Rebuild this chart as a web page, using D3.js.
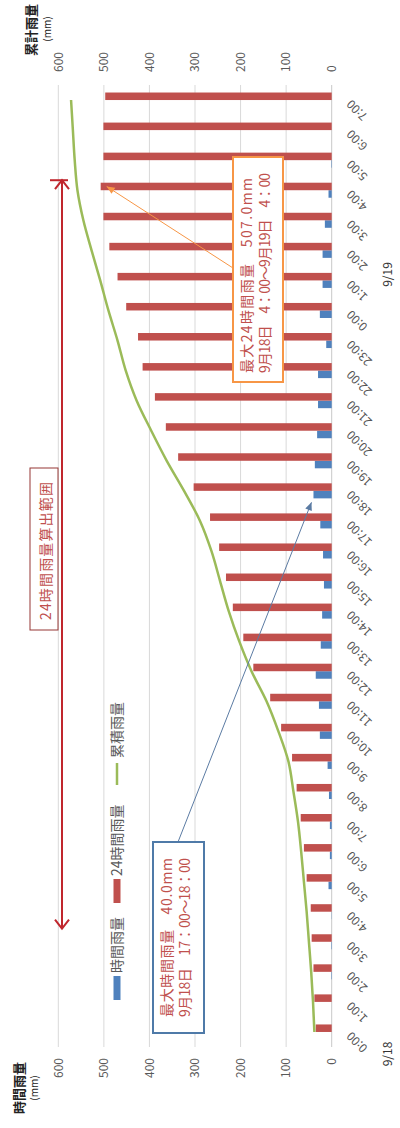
<!DOCTYPE html>
<html>
<head>
<meta charset="utf-8">
<script src="https://cdn.jsdelivr.net/npm/d3@7"></script>
<style>
body { margin: 0; background: #fff; }
svg { display: block; }
text { font-family: "Noto Sans CJK JP", "Noto Sans", sans-serif; }
</style>
</head>
<body>
<div id="chart"></div>
<script>
// hours from 9/18 0:00 to 9/19 7:00
var timeLabels = ["0:00","1:00","2:00","3:00","4:00","5:00","6:00","7:00","8:00","9:00","10:00","11:00",
	"12:00","13:00","14:00","15:00","16:00","17:00","18:00","19:00","20:00","21:00","22:00","23:00",
	"0:00","1:00","2:00","3:00","4:00","5:00","6:00","7:00"];
var dateLabels = ["9/18", "9/19"];
var hourlyRain = [0,0,1,1,0.5,7,4,4,6,9,26,28,35,24,21,17,19,25,40,37,32,30,30,12,26,20,20,15,7,1,0,0];
var rain24h = [35,38,40,44,46,55,61,68,77,87,111,135,172,194,217,232,247,267,303,337,364,388,415,425,
	451,470,488,501,507,501,501,497];
var cumRain = [38,41,45,50,55,61,67,74,84,95,117,143,176,203,226,245,264,289,324,362,396,428,452,470,
	490,508,527,545,558,564,568,572];
var valueTicks = [0,100,200,300,400,500,600];
var seriesNames = ["時間雨量", "24時間雨量", "累積雨量"];
var seriesColors = ["#4f81bd", "#c0504d", "#9bbb59"];

var svg = d3.select("#chart").append("svg")
	.attr("width", 400)
	.attr("height", 1128);

// the whole chart lies on its side: draw it 1128 wide x 400 high, then turn it
var g = svg.append("g")
	.attr("transform", "translate(0,1128) rotate(-90)");

var x = d3.scaleBand()
	.domain(d3.range(timeLabels.length))
	.range([81, 1043])
	.paddingInner(0.5)
	.paddingOuter(0.25);
var xs = d3.scaleBand().domain([0, 1]).range([0, x.bandwidth()]);
var y = d3.scaleLinear().domain([0, 600]).range([331.7, 58.3]);
var cx = function(i) { return x(i) + x.bandwidth() / 2; };

// gridlines
g.append("g").selectAll("line")
	.data(valueTicks.slice(1))
	.enter().append("line")
	.attr("x1", 81).attr("x2", 1043)
	.attr("y1", function(d) { return y(d); })
	.attr("y2", function(d) { return y(d); })
	.attr("stroke", "#d9d9d9");
g.append("line")
	.attr("x1", 81).attr("x2", 1043)
	.attr("y1", y(0)).attr("y2", y(0))
	.attr("stroke", "#c8c8c8");

// value axes (both 0-600)
var leftAxis = g.append("g").attr("transform", "translate(81,0)")
	.call(d3.axisLeft(y).tickValues(valueTicks).tickSize(0).tickPadding(11));
var rightAxis = g.append("g").attr("transform", "translate(1043,0)")
	.call(d3.axisRight(y).tickValues(valueTicks).tickSize(0).tickPadding(13));
[leftAxis, rightAxis].forEach(function(a) {
	a.select(".domain").remove();
	a.selectAll("text").style("font-size", "12px").attr("fill", "#595959");
});

// time axis
var timeAxis = g.append("g").attr("transform", "translate(0," + y(0) + ")")
	.call(d3.axisBottom(x).tickSize(0).tickFormat(function(i) { return timeLabels[i]; }));
timeAxis.select(".domain").remove();
timeAxis.selectAll("text")
	.attr("y", 0).attr("dy", "0.35em")
	.attr("text-anchor", "end")
	.attr("transform", "translate(-2,17) rotate(-45)")
	.style("font-size", "12px")
	.attr("fill", "#555");

g.append("g").selectAll("text")
	.data(dateLabels)
	.enter().append("text")
	.attr("x", function(d, i) { return i == 0 ? cx(0) - 22 : cx(24) + 36; })
	.attr("y", 392)
	.attr("text-anchor", "middle")
	.style("font-size", "12px")
	.attr("fill", "#333")
	.text(function(d) { return d; });

// bars
g.append("g").selectAll("rect")
	.data(hourlyRain)
	.enter().append("rect")
	.attr("x", function(d, i) { return x(i) + xs(0); })
	.attr("width", xs.bandwidth())
	.attr("y", function(d) { return y(d); })
	.attr("height", function(d) { return y(0) - y(d); })
	.attr("fill", seriesColors[0]);
g.append("g").selectAll("rect")
	.data(rain24h)
	.enter().append("rect")
	.attr("x", function(d, i) { return x(i) + xs(1); })
	.attr("width", xs.bandwidth())
	.attr("y", function(d) { return y(d); })
	.attr("height", function(d) { return y(0) - y(d); })
	.attr("fill", seriesColors[1]);

// cumulative line
var line = d3.line()
	.x(function(d, i) { return cx(i); })
	.y(function(d) { return y(d); })
	.curve(d3.curveMonotoneX);
g.append("path")
	.datum(cumRain)
	.attr("d", line)
	.attr("fill", "none")
	.attr("stroke", seriesColors[2])
	.attr("stroke-width", 2.5);

// axis titles
function title(txt, xx, yy, size, bold) {
	g.append("text").attr("x", xx).attr("y", yy)
		.attr("text-anchor", "middle")
		.style("font-size", size + "px")
		.style("font-weight", bold ? "bold" : "normal")
		.attr("fill", "#222")
		.text(txt);
}
title("時間雨量", 40, 24, 13, true);
title("(mm)", 40, 38, 10, false);
title("累計雨量", 1098, 36, 13, true);
title("(mm)", 1099, 51, 10, false);

// legend
var legX = [128, 225, 343];
var leg = g.append("g");
seriesNames.forEach(function(name, k) {
	if (k < 2) {
		leg.append("rect").attr("x", legX[k]).attr("y", 113.5)
			.attr("width", 24).attr("height", 7).attr("fill", seriesColors[k]);
	} else {
		leg.append("line").attr("x1", legX[k]).attr("x2", legX[k] + 22)
			.attr("y1", 117).attr("y2", 117)
			.attr("stroke", seriesColors[k]).attr("stroke-width", 2.5);
	}
	leg.append("text").attr("x", legX[k] + 27).attr("y", 122)
		.style("font-size", "14px").attr("fill", "#595959")
		.text(name);
});

// 24h range arrow
var arrowRed = "#c0262d";
var a0 = cx(4) - 17, a1 = cx(28) + 10;
g.append("line").attr("x1", a0).attr("x2", a1).attr("y1", 62).attr("y2", 62)
	.attr("stroke", arrowRed).attr("stroke-width", 2);
g.append("path").attr("d", "M" + (a0 + 9) + ",55 L" + a0 + ",62 L" + (a0 + 9) + ",69")
	.attr("fill", "none").attr("stroke", arrowRed).attr("stroke-width", 2);
g.append("path").attr("d", "M" + (a1 - 9) + ",55 L" + a1 + ",62 L" + (a1 - 9) + ",69")
	.attr("fill", "none").attr("stroke", arrowRed).attr("stroke-width", 2);
g.append("line").attr("x1", a1).attr("x2", a1).attr("y1", 50).attr("y2", 68)
	.attr("stroke", arrowRed).attr("stroke-width", 2);

g.append("rect").attr("x", 498).attr("y", 30).attr("width", 162).attr("height", 28)
	.attr("fill", "#fff").attr("stroke", "#953735");
g.append("text").attr("x", 508).attr("y", 51)
	.attr("textLength", 138).attr("lengthAdjust", "spacing")
	.style("font-size", "14px").attr("fill", "#c0504d")
	.text("24時間雨量算出範囲");

// pointer arrows
function pointer(x1, y1, x2, y2, col) {
	g.append("line").attr("x1", x1).attr("y1", y1).attr("x2", x2).attr("y2", y2)
		.attr("stroke", col).attr("stroke-width", 1);
	var ang = Math.atan2(y2 - y1, x2 - x1), L = 8, w = 3.5;
	var bx = x2 - L * Math.cos(ang), by = y2 - L * Math.sin(ang);
	var px = -Math.sin(ang) * w, py = Math.cos(ang) * w;
	g.append("path")
		.attr("d", "M" + x2 + "," + y2 + "L" + (bx + px) + "," + (by + py) + "L" + (bx - px) + "," + (by - py) + "Z")
		.attr("fill", col);
}
pointer(286, 178, x(18) + xs(0) - 4, y(40) - 2, "#5b7ba3");
pointer(860, 233, x(28) + xs(1) + xs.bandwidth() / 2, y(507) + 6, "#f79646");

// annotation boxes
function note(bx, by, bw, bh, col, lines) {
	g.append("rect").attr("x", bx).attr("y", by).attr("width", bw).attr("height", bh)
		.attr("fill", "#fff").attr("stroke", col).attr("stroke-width", 2);
	lines.forEach(function(l, k) {
		g.append("text").attr("x", bx + l[1]).attr("y", by + 19 + k * 18)
			.attr("textLength", l[2]).attr("lengthAdjust", "spacing")
			.style("font-size", "14px").attr("fill", "#c0504d")
			.text(l[0]);
	});
}
note(95, 153, 191, 51, "#4f7aa8", [
	["最大時間雨量　40.0mm", 16, 159],
	["9月18日　17：00～18：00", 16, 159]
]);
note(746, 233, 225, 50, "#f79646", [
	["最大24時間雨量　507.0mm", 9, 195],
	["9月18日　4：00～9月19日　4：00", 9, 200]
]);
</script>
</body>
</html>
